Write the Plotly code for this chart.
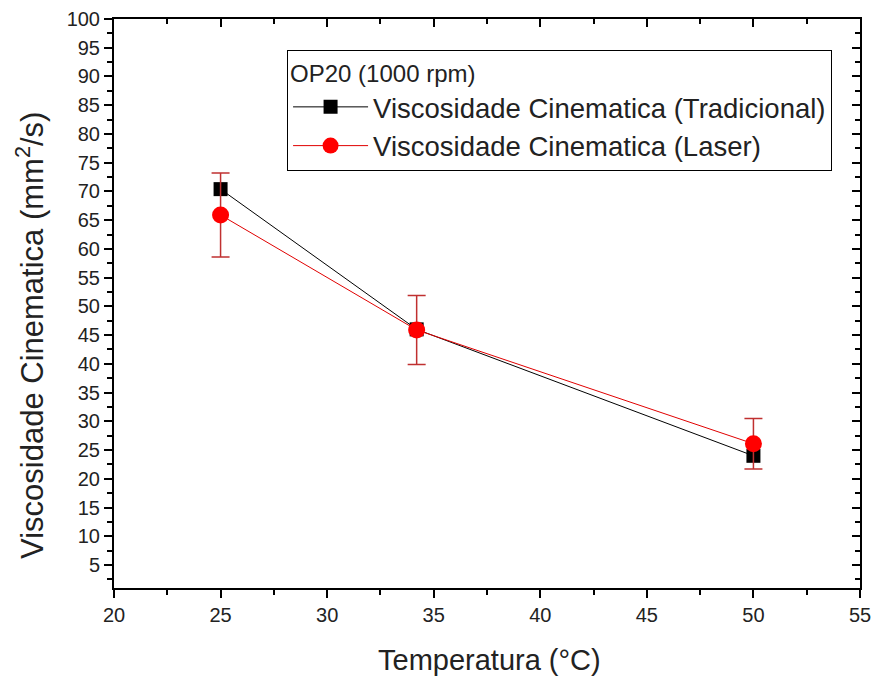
import plotly.graph_objects as go

temperatura = [25, 34.2, 50]
visc_tradicional = [70.4, 46.0, 24.0]
visc_laser = [65.9, 45.9, 26.1]
erro_laser = [7.3, 6.0, 4.4]

series_names = ["Viscosidade Cinematica (Tradicional)", "Viscosidade Cinematica (Laser)"]
legend_title = "OP20 (1000 rpm)"
x_title = "Temperatura (°C)"
y_title = "Viscosidade Cinematica (mm<sup>2</sup>/s)"

FONT = "Liberation Sans, Arial, sans-serif"

fig = go.Figure()
fig.add_trace(go.Scatter(
    x=temperatura, y=visc_tradicional, name=series_names[0],
    mode="lines+markers",
    line=dict(color="black", width=1),
    marker=dict(symbol="square", size=14, color="black"),
))
fig.add_trace(go.Scatter(
    x=temperatura, y=visc_laser, name=series_names[1],
    mode="lines+markers",
    line=dict(color="#e00000", width=1),
    marker=dict(symbol="circle", size=17, color="#ff0000"),
    error_y=dict(type="data", array=erro_laser, visible=True, color="#c03030", thickness=1.5, width=9),
))

xr = [20, 55]
yr = [1, 100]
axfont = dict(family=FONT, size=20, color="#222")

fig.update_layout(
    width=875, height=677,
    paper_bgcolor="white", plot_bgcolor="white",
    margin=dict(l=114, r=15, t=19, b=89),
    font=dict(family=FONT, color="#222"),
    showlegend=True,
    legend=dict(
        x=0.232, y=0.945, xanchor="left", yanchor="top",
        bordercolor="black", borderwidth=1, bgcolor="white",
        font=dict(family=FONT, size=27.5, color="#222"),
        title=dict(text=legend_title, font=dict(family=FONT, size=24, color="#222")),
        tracegroupgap=0, itemwidth=75,
    ),
    xaxis=dict(
        range=xr, dtick=5, tick0=20, showgrid=False, zeroline=False, automargin=False,
        showline=True, linecolor="black", linewidth=2,
        ticks="outside", ticklen=8, tickwidth=2, tickcolor="black",
        minor=dict(ticks="outside", dtick=2.5, tick0=20, ticklen=5, tickwidth=2, tickcolor="black"),
        tickfont=axfont,
    ),
    yaxis=dict(
        range=yr, tickvals=list(range(5, 101, 5)), showgrid=False, zeroline=False, automargin=False,
        showline=True, linecolor="black", linewidth=2,
        ticks="outside", ticklen=8, tickwidth=2, tickcolor="black",
        minor=dict(ticks="outside", tickvals=[2.5 + 5 * i for i in range(20)], ticklen=5, tickwidth=2, tickcolor="black"),
        tickfont=axfont,
    ),
    xaxis2=dict(
        range=xr, overlaying="x", side="top", anchor="y", showgrid=False, zeroline=False, automargin=False,
        showline=True, linecolor="black", linewidth=2, showticklabels=False,
        dtick=5, tick0=20, ticks="inside", ticklen=8, tickwidth=2, tickcolor="black",
        minor=dict(ticks="inside", dtick=2.5, tick0=20, ticklen=5, tickwidth=2, tickcolor="black"),
    ),
    yaxis2=dict(
        range=yr, overlaying="y", side="right", anchor="x", showgrid=False, zeroline=False, automargin=False,
        showline=True, linecolor="black", linewidth=2, showticklabels=False,
        tickvals=list(range(5, 101, 5)), ticks="inside", ticklen=8, tickwidth=2, tickcolor="black",
        minor=dict(ticks="inside", tickvals=[2.5 + 5 * i for i in range(20)], ticklen=5, tickwidth=2, tickcolor="black"),
    ),
    annotations=[
        dict(text=x_title, xref="paper", yref="paper", x=0.503, y=-0.127,
             xanchor="center", yanchor="middle", showarrow=False,
             font=dict(family=FONT, size=29, color="#222")),
        dict(text=y_title, xref="paper", yref="paper", x=-0.1126, y=0.443,
             xanchor="center", yanchor="middle", textangle=-90, showarrow=False,
             font=dict(family=FONT, size=31, color="#222")),
    ],
)
# invisible helper trace so the mirrored axes are drawn
fig.add_trace(go.Scatter(x=[None], y=[None], xaxis="x2", yaxis="y2", showlegend=False, hoverinfo="skip"))

fig.write_html(
    "out.html",
    config={"displayModeBar": False},
    post_script="document.body.style.margin='0';document.body.style.overflow='hidden';",
)
